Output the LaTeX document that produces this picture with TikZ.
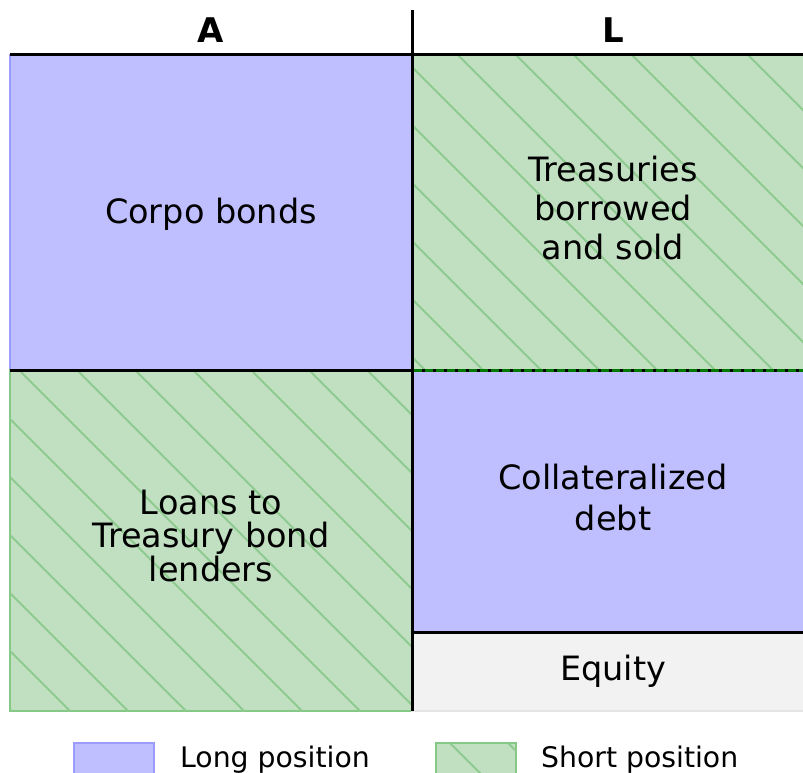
\documentclass[tikz,border=0pt]{standalone}
\usepackage{fontspec}
\setmainfont{DejaVu Sans}
\definecolor{longfill}{HTML}{BFBFFF}
\definecolor{longborder}{HTML}{9C9CFF}
\definecolor{shortfill}{HTML}{C1DFC1}
\definecolor{shortborder}{HTML}{86C986}
\definecolor{hatchcol}{HTML}{8ECB8E}
\definecolor{eqfill}{HTML}{F2F2F2}
\definecolor{eqborder}{HTML}{E4E4E4}
\definecolor{dashgreen}{HTML}{007A00}
\tikzset{
  longbox/.style={fill=longfill, draw=longborder, line width=1.2},
  shortbox/.style={fill=shortfill, draw=shortborder, line width=1.2},
  eqbox/.style={fill=eqfill, draw=eqborder, line width=1.2},
  hatchline/.style={draw=hatchcol, line width=1.8},
  lbl/.style={font=\fontsize{33.5}{39}\selectfont, align=center, inner sep=0pt},
  lblb/.style={font=\fontsize{33.5}{33.5}\selectfont, align=center, inner sep=0pt},
  hdr/.style={font=\fontsize{34}{34}\selectfont\bfseries, inner sep=0pt, anchor=base},
  legtxt/.style={font=\fontsize{28.3}{28.3}\selectfont, inner sep=0pt, anchor=base west},
  sepline/.style={line width=3, draw=black},
}
\newcommand\hatchrect[4]{%
  \begin{scope}
    \clip (#1,#2) rectangle (#3,#4);
    \foreach \k in {-15,...,15}{
      \draw[hatchline] ({-3+58*\k+#2},#2) -- ({-3+58*\k+#4},#4);
    }
  \end{scope}}
\begin{document}
\begin{tikzpicture}[x=1pt,y=-1pt]
  \useasboundingbox (0,0) rectangle (803,773);
  % boxes
  \path[longbox] (10,55) rectangle (412,370);
  \path[shortbox] (412,55) rectangle (805,370);
  \hatchrect{412}{55}{805}{370}
  \path[shortbox] (10,370) rectangle (412,711);
  \hatchrect{10}{370}{412}{711}
  \path[longbox] (412,370) rectangle (805,632);
  \path[eqbox] (412,632) rectangle (805,711);
  % separator lines
  \draw[sepline] (10,55) -- (805,55);
  \draw[sepline] (412,10) -- (412,711);
  \draw[sepline] (10,370) -- (805,370);
  \draw[line width=3, draw=dashgreen, dash pattern=on 8 off 3] (414,370) -- (805,370);
  \draw[sepline] (412,632) -- (805,632);
  % headers
  \node[hdr] (hA) at (211,43) {A};
  \node[hdr] (hL) at (613,43) {L};
  % labels
  \node[lbl, anchor=base] (corpo) at (211,223) {Corpo bonds};
  \node[lbl] (treas) at (613,208) {Treasuries\\borrowed\\and sold};
  \node[lblb] (loans) at (211,536) {Loans to\\Treasury bond\\lenders};
  \node[lbl, font=\fontsize{33.5}{41}\selectfont] (coll) at (613,498) {Collateralized\\debt};
  \node[lbl, anchor=base] (equity) at (613,680) {Equity};
  % legend
  \path[longbox] (74,743) rectangle (154,785);
  \path[shortbox] (436,743) rectangle (516,785);
  \hatchrect{436}{743}{516}{785}
  \node[legtxt] (leglong) at (180,767) {Long position};
  \node[legtxt] (legshort) at (541,767) {Short position};
\end{tikzpicture}
\end{document}
